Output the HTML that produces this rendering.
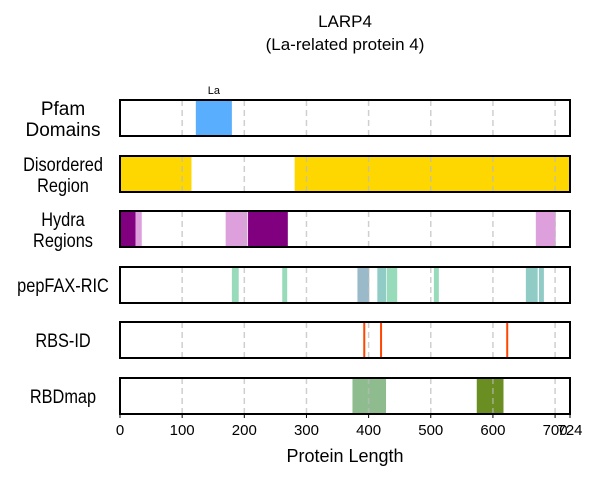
<!DOCTYPE html>
<html><head><meta charset="utf-8"><style>
body{margin:0;background:#fff;font-family:"Liberation Sans",sans-serif}
</style></head><body>
<svg width="600" height="480" xmlns="http://www.w3.org/2000/svg" font-family="Liberation Sans, sans-serif">
<text x="345" y="27" text-anchor="middle" font-size="17">LARP4</text>
<text x="345" y="50" text-anchor="middle" font-size="17">(La-related protein 4)</text>
<g id="plot"></g>
<text x="345" y="462" text-anchor="middle" font-size="18">Protein Length</text>
</svg>
<script>
const tracks=["Pfam\nDomains","Disordered\nRegion","Hydra\nRegions","pepFAX-RIC","RBS-ID","RBDmap"];
const pfam=[[122,180,"#5aaefe","La"]];
const disordered=[[0,115],[281,724]];
const hydra=[[0,25,"#800080"],[25,35,"#dda0dd"],[170,205,"#dda0dd"],[206,270,"#800080"],[669,701,"#dda0dd"]];
const pepfax=[[180,191,"#98dbbb"],[261,269,"#98dbbb"],[382,401,"#9bbac9"],[414,428,"#91cbc5"],[429,446,"#98dbbb"],[505,513,"#98dbbb"],[653,672,"#91cbc5"],[674,682,"#91cbc5"]];
const rbsid=[393,420,623];
const rbdmap=[[374,428,"#8fbc8f"],[574,617,"#6b8e23"]];
const ticks=[0,100,200,300,400,500,600,700,724];
const L=724,X0=120,X1=570;
const x=v=>X0+v/L*(X1-X0);
const tops=[100,156,211,267,322,378],H=36;
const ns="http://www.w3.org/2000/svg";
const g=document.getElementById('plot');
function mk(t,a){const e=document.createElementNS(ns,t);for(const k in a)e.setAttribute(k,a[k]);g.appendChild(e);return e;}
function rect(a,b,ti,c,nm){const e=mk('rect',{x:x(a),y:tops[ti],width:x(b)-x(a),height:H,fill:c});

}
tracks.forEach((t,i)=>{
 const lines=t.split("\n");
 lines.forEach((ln,j)=>{const e=mk('text',{x:63,y:tops[i]+H/2+7+(lines.length==2?(j==0?-10:11):0),'text-anchor':'middle','font-size':i==0?19:19});
 if(i!=0)e.setAttribute('transform',`translate(63,0) scale(0.86,1) translate(-63,0)`);
 e.textContent=ln;
 
 });
});
pfam.forEach(d=>{rect(d[0],d[1],0,d[2],'pfam-domain');const e=mk('text',{x:(x(d[0])+x(d[1]))/2,y:tops[0]-6,'text-anchor':'middle','font-size':11});e.textContent=d[3];

});
disordered.forEach(d=>rect(d[0],d[1],1,'#ffd700','disordered-region'));
hydra.forEach(d=>rect(d[0],d[1],2,d[2],'hydra-region'));
pepfax.forEach(d=>rect(d[0],d[1],3,d[2],'pepfax-region'));
rbsid.forEach(v=>{const e=mk('line',{x1:x(v),x2:x(v),y1:tops[4],y2:tops[4]+H,stroke:'#ff4500','stroke-width':2});

});
rbdmap.forEach(d=>rect(d[0],d[1],5,d[2],'rbdmap-region'));
tops.forEach((t,i)=>{
 ticks.slice(1,8).forEach(v=>{const e=mk('line',{x1:x(v),x2:x(v),y1:t,y2:t+H,stroke:'#bbb','stroke-width':1.5,'stroke-dasharray':'6,4',opacity:0.7});
 
 });
 const f=mk('rect',{x:X0,y:t,width:X1-X0,height:H,fill:'none',stroke:'#000','stroke-width':2});
 
 
});
const yb=tops[5]+H;
ticks.forEach(v=>{const l=mk('line',{x1:x(v),x2:x(v),y1:yb,y2:yb+4,stroke:'#000','stroke-width':1});


const e=mk('text',{x:x(v),y:yb+21,'text-anchor':'middle','font-size':15});e.textContent=v;

});
</script>
</body></html>
